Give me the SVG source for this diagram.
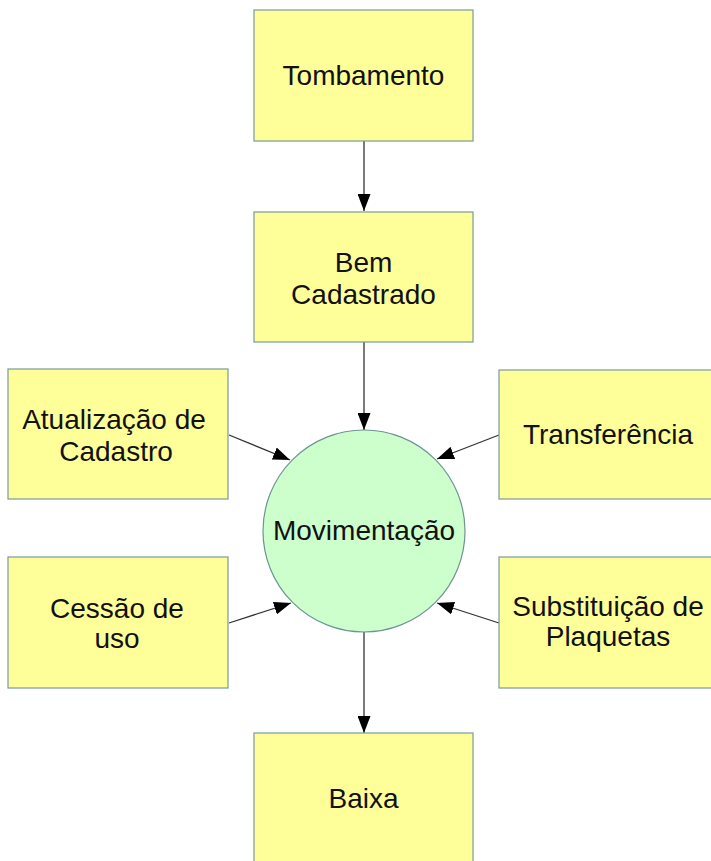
<svg xmlns="http://www.w3.org/2000/svg" width="711" height="861" viewBox="0 0 711 861">
<style>
.box{fill:#ffff99;stroke:#7a9a9a;stroke-width:1.2}
.circ{fill:#ccffcc;stroke:#6f9494;stroke-width:1.2}
.t{font-family:"Liberation Sans",Arial,sans-serif;font-size:28px;fill:#111;text-anchor:middle}
.c{stroke:#333;stroke-width:1.3;fill:none;marker-end:url(#ah)}
</style>
<defs>
<marker id="ah" viewBox="0 0 17 13" refX="17" refY="6.5" markerWidth="17" markerHeight="13" markerUnits="userSpaceOnUse" orient="auto">
<path d="M0,0 L17,6.5 L0,13 Z" fill="#000"/>
</marker>
</defs>
<rect width="711" height="861" fill="#fff"/>
<g id="connectors">
<line class="c" x1="364" y1="141" x2="364" y2="211"/>
<line class="c" x1="364" y1="342" x2="364" y2="430"/>
<line class="c" x1="364" y1="632" x2="364" y2="733"/>
<line class="c" x1="229" y1="435" x2="290" y2="460"/>
<line class="c" x1="499" y1="435" x2="437" y2="459"/>
<line class="c" x1="229" y1="623" x2="291" y2="603"/>
<line class="c" x1="499" y1="623" x2="437" y2="603"/>
</g>
<g id="tombamento">
<rect class="box" x="254" y="10" width="219" height="131"/>
<text class="t" x="363.5" y="85">Tombamento</text>
</g>
<g id="bem-cadastrado">
<rect class="box" x="254" y="212" width="219" height="130"/>
<text class="t" x="363.5" y="272">Bem</text>
<text class="t" x="363.5" y="304">Cadastrado</text>
</g>
<g id="atualizacao">
<rect class="box" x="8" y="369" width="220" height="130"/>
<text class="t" x="114" y="429">Atualização de</text>
<text class="t" x="116" y="461">Cadastro</text>
</g>
<g id="transferencia">
<rect class="box" x="499" y="370" width="219" height="129"/>
<text class="t" x="608" y="444">Transferência</text>
</g>
<g id="movimentacao">
<circle class="circ" cx="364" cy="531" r="101"/>
<text class="t" x="364" y="540">Movimentação</text>
</g>
<g id="cessao">
<rect class="box" x="8" y="557" width="220" height="131"/>
<text class="t" x="117" y="618">Cessão de</text>
<text class="t" x="117" y="648">uso</text>
</g>
<g id="substituicao">
<rect class="box" x="499" y="557" width="219" height="131"/>
<text class="t" x="608" y="616">Substituição de</text>
<text class="t" x="608" y="646">Plaquetas</text>
</g>
<g id="baixa">
<rect class="box" x="254" y="733" width="219" height="140"/>
<text class="t" x="363.5" y="808">Baixa</text>
</g>
</svg>
